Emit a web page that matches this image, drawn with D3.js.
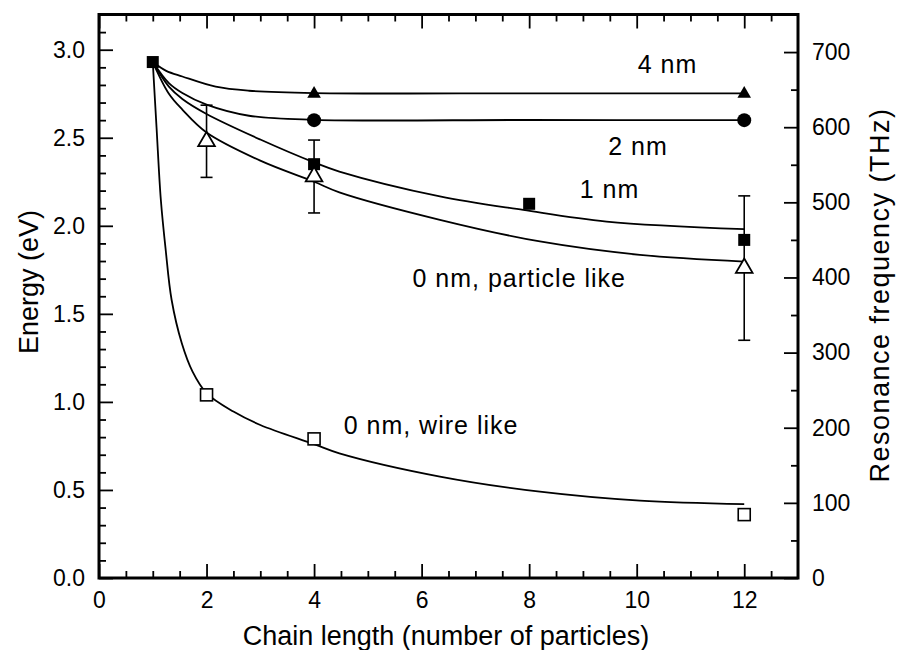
<!DOCTYPE html>
<html>
<head>
<meta charset="utf-8">
<script src="https://cdn.jsdelivr.net/npm/d3@7"></script>
<style>
  body { margin: 0; background: #fff; }
  text { font-family: "Liberation Sans", Arial, Helvetica, sans-serif; fill: #000; }
</style>
</head>
<body>
<div class="canvas"></div>
<script>
// measured points (eV)
const nm4X = [4, 12];
const nm4E = [2.75, 2.75];
const nm2X = [4, 12];
const nm2E = [2.60, 2.60];
const nm1X = [1, 4, 8, 12];
const nm1E = [2.93, 2.35, 2.125, 1.92];
const particleX = [2, 4, 12];
const particleE = [2.48, 2.28, 1.76];
const particleErr = [0.205, 0.207, 0.41];
const wireX = [2, 4, 12];
const wireE = [1.04, 0.79, 0.36];

// fitted curves
const fit4X = [1, 1.25, 1.55, 2.17, 2.79, 4, 8, 12];
const fit4E = [2.93, 2.88, 2.848, 2.79, 2.767, 2.754, 2.752, 2.752];
const fit2X = [1, 1.3, 1.55, 2, 2.79, 4, 8, 12];
const fit2E = [2.93, 2.81, 2.754, 2.688, 2.625, 2.602, 2.601, 2.60];
const fit1X = [1, 1.3, 1.55, 2, 3, 4, 4.47, 6.34, 7.89, 9.44, 12];
const fit1E = [2.93, 2.79, 2.72, 2.635, 2.49, 2.36, 2.308, 2.167, 2.09, 2.024, 1.981];
const fitPX = [1, 1.3, 1.55, 2, 3, 4, 4.47, 6.34, 8.2, 10.06, 12];
const fitPE = [2.93, 2.75, 2.66, 2.53, 2.37, 2.25, 2.19, 2.034, 1.911, 1.835, 1.797];
const fitWX = [1, 1.07, 1.15, 1.24, 1.35, 1.54, 1.74, 2, 2.5, 3, 4, 4.47, 6.34, 8.2, 10.06, 12];
const fitWE = [2.93, 2.56, 2.148, 1.864, 1.58, 1.333, 1.172, 1.05, 0.945, 0.869, 0.76, 0.708, 0.576, 0.49, 0.439, 0.419];

// axis ticks
const xMajor = [0, 2, 4, 6, 8, 10, 12];
const xMinor = [0.5, 1, 1.5, 2.5, 3, 3.5, 4.5, 5, 5.5, 6.5, 7, 7.5, 8.5, 9, 9.5, 10.5, 11, 11.5, 12.5];
const yMajor = [0, 0.5, 1.0, 1.5, 2.0, 2.5, 3.0];
const yMinor = [0.1, 0.2, 0.3, 0.4, 0.6, 0.7, 0.8, 0.9, 1.1, 1.2, 1.3, 1.4, 1.6, 1.7, 1.8, 1.9,
                2.1, 2.2, 2.3, 2.4, 2.6, 2.7, 2.8, 2.9, 3.1];
const fMajor = [0, 100, 200, 300, 400, 500, 600, 700];
const fMinor = [50, 150, 250, 350, 450, 550, 650];

// labels on the plot
const labelText = ["4 nm", "2 nm", "1 nm", "0 nm, particle like", "0 nm, wire like"];
const labelX = [10.02, 9.47, 8.94, 5.83, 4.55];
const labelE = [2.87, 2.40, 2.16, 1.65, 0.82];

const W = 897, H = 650;
const m = {left: 99, right: 798, top: 14.5, bottom: 578};

const svg = d3.select(".canvas")
  .append("svg")
  .attr("width", W)
  .attr("height", H);

const x = d3.scaleLinear().domain([0, 13]).range([m.left, m.right]);
const y = d3.scaleLinear().domain([0, 3.2]).range([m.bottom, m.top]);
const yf = d3.scaleLinear().domain([0, 750]).range([m.bottom, m.top]);

function ticks(axis, tr, size) {
  const g = svg.append("g")
    .attr("transform", tr)
    .call(axis.tickSize(size).tickFormat(""));
  g.select(".domain").remove();
  g.selectAll("line").attr("stroke", "#000").attr("stroke-width", 1.8);
}

// major + minor ticks, all pointing inward
ticks(d3.axisBottom(x).tickValues(xMajor), `translate(0,${m.bottom})`, -14);
ticks(d3.axisBottom(x).tickValues(xMinor), `translate(0,${m.bottom})`, -7);
ticks(d3.axisTop(x).tickValues(xMajor), `translate(0,${m.top})`, -14);
ticks(d3.axisTop(x).tickValues(xMinor), `translate(0,${m.top})`, -7);
ticks(d3.axisLeft(y).tickValues(yMajor), `translate(${m.left},0)`, -14);
ticks(d3.axisLeft(y).tickValues(yMinor), `translate(${m.left},0)`, -7);
ticks(d3.axisRight(yf).tickValues(fMajor), `translate(${m.right},0)`, -14);
ticks(d3.axisRight(yf).tickValues(fMinor), `translate(${m.right},0)`, -7);

function labels(axis, tr, pad, fmt) {
  const g = svg.append("g")
    .attr("transform", tr)
    .call(axis.tickSize(0).tickPadding(pad).tickFormat(fmt));
  g.select(".domain").remove();
  g.attr("font-size", 23).attr("font-family", null);
}

labels(d3.axisBottom(x).tickValues(xMajor), `translate(0,${m.bottom})`, 14, d3.format("d"));
labels(d3.axisLeft(y).tickValues(yMajor), `translate(${m.left},0)`, 14, d3.format(".1f"));
labels(d3.axisRight(yf).tickValues(fMajor), `translate(${m.right},0)`, 14, d3.format("d"));

// frame
svg.append("rect")
  .attr("x", m.left).attr("y", m.top)
  .attr("width", m.right - m.left).attr("height", m.bottom - m.top)
  .attr("fill", "none").attr("stroke", "#000").attr("stroke-width", 3);

// fitted curves
const line = d3.line()
  .x(d => x(d[0]))
  .y(d => y(d[1]))
  .curve(d3.curveCatmullRom.alpha(0.5));

[[fit4X, fit4E], [fit2X, fit2E], [fit1X, fit1E], [fitPX, fitPE], [fitWX, fitWE]].forEach(([xs, es]) => {
  svg.append("path")
    .datum(xs.map((v, i) => [v, es[i]]))
    .attr("d", line)
    .attr("fill", "none")
    .attr("stroke", "#000")
    .attr("stroke-width", 1.8);
});

// error bars on the particle-like points
const err = svg.append("g").attr("stroke", "#000").attr("stroke-width", 1.6);
particleX.forEach((v, i) => {
  const lo = y(particleE[i] - particleErr[i]), hi = y(particleE[i] + particleErr[i]);
  err.append("line").attr("x1", x(v)).attr("x2", x(v)).attr("y1", lo).attr("y2", hi);
  err.append("line").attr("x1", x(v) - 6).attr("x2", x(v) + 6).attr("y1", lo).attr("y2", lo);
  err.append("line").attr("x1", x(v) - 6).attr("x2", x(v) + 6).attr("y1", hi).attr("y2", hi);
});

// markers
svg.selectAll(".tri")
  .data(nm4X.map((v, i) => [v, nm4E[i]]))
  .enter().append("path")
  .attr("d", d3.symbol().type(d3.symbolTriangle).size(80))
  .attr("transform", d => `translate(${x(d[0])},${y(d[1])})`)
  .attr("fill", "#000");

svg.selectAll(".circ")
  .data(nm2X.map((v, i) => [v, nm2E[i]]))
  .enter().append("circle")
  .attr("cx", d => x(d[0]))
  .attr("cy", d => y(d[1]))
  .attr("r", 7)
  .attr("fill", "#000");

svg.selectAll(".sq")
  .data(nm1X.map((v, i) => [v, nm1E[i]]))
  .enter().append("rect")
  .attr("x", d => x(d[0]) - 6)
  .attr("y", d => y(d[1]) - 6)
  .attr("width", 12).attr("height", 12)
  .attr("fill", "#000");

svg.selectAll(".otri")
  .data(particleX.map((v, i) => [v, particleE[i]]))
  .enter().append("path")
  .attr("d", d3.symbol().type(d3.symbolTriangle).size(120))
  .attr("transform", d => `translate(${x(d[0])},${y(d[1])})`)
  .attr("fill", "#fff")
  .attr("stroke", "#000")
  .attr("stroke-width", 1.8);

svg.selectAll(".osq")
  .data(wireX.map((v, i) => [v, wireE[i]]))
  .enter().append("rect")
  .attr("x", d => x(d[0]) - 6)
  .attr("y", d => y(d[1]) - 6)
  .attr("width", 12).attr("height", 12)
  .attr("fill", "#fff")
  .attr("stroke", "#000")
  .attr("stroke-width", 1.6);

// series labels
svg.selectAll(".lab")
  .data(labelText)
  .enter().append("text")
  .attr("x", (d, i) => x(labelX[i]))
  .attr("y", (d, i) => y(labelE[i]))
  .attr("font-size", 25)
  .attr("letter-spacing", 1)
  .text(d => d);

// axis titles
svg.append("text")
  .attr("x", 446).attr("y", 645)
  .attr("text-anchor", "middle")
  .attr("font-size", 27)
  .text("Chain length (number of particles)");

svg.append("text")
  .attr("transform", "translate(38,282) rotate(-90)")
  .attr("text-anchor", "middle")
  .attr("font-size", 27)
  .text("Energy (eV)");

svg.append("text")
  .attr("transform", "translate(889,295) rotate(-90)")
  .attr("text-anchor", "middle")
  .attr("font-size", 27)
  .attr("letter-spacing", 1.5)
  .text("Resonance frequency (THz)");
</script>
</body>
</html>
